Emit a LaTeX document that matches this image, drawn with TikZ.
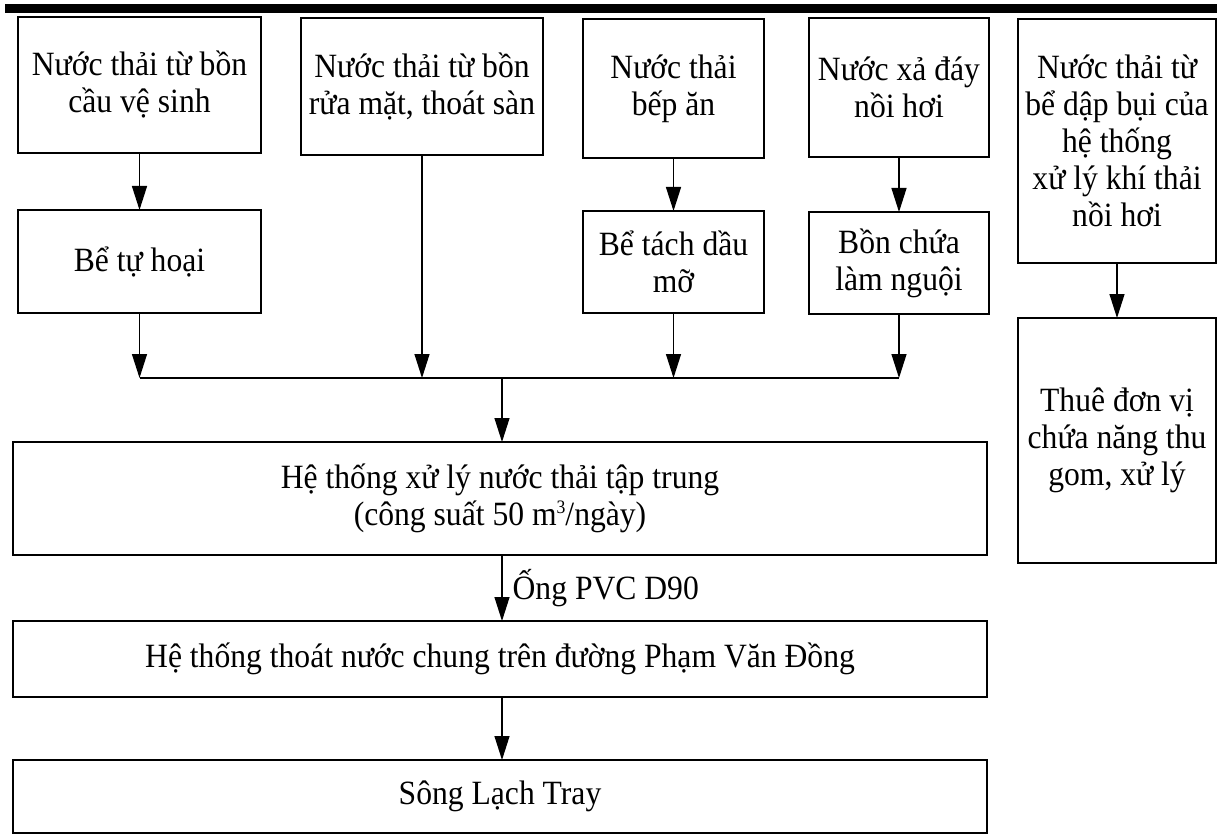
\documentclass[tikz,border=0pt]{standalone}
\usepackage{fontspec}
\setmainfont{Liberation Serif}[FakeStretch=0.93]
\usetikzlibrary{arrows.meta}
\begin{document}
\begin{tikzpicture}[x=1pt,y=-1pt,
  box/.style={draw, line width=1.5pt, align=center, inner sep=2pt, outer sep=0pt,
    font=\fontsize{34}{37}\selectfont},
  arr/.style={line width=1.3pt, -{Triangle[length=24pt,width=15pt]}},
  wire/.style={line width=1.3pt},
  lbl/.style={font=\fontsize{34}{37}\selectfont, inner sep=0pt, anchor=west}]
\useasboundingbox (0,0) rectangle (1217,834);
% top rule
\fill (5,4) rectangle (1217,13);
% top row
\node[box, minimum width=243pt, minimum height=136pt] (n1) at (139.5,85) {Nước thải từ bồn\\cầu vệ sinh};
\node[box, minimum width=242pt, minimum height=137pt] (n2) at (422,86.5) {Nước thải từ bồn\\rửa mặt, thoát sàn};
\node[box, minimum width=181pt, minimum height=139pt] (n3) at (673.5,88.5) {Nước thải\\bếp ăn};
\node[box, minimum width=180pt, minimum height=139pt] (n4) at (899,87.5) {Nước xả đáy\\nồi hơi};
\node[box, minimum width=198pt, minimum height=244pt] (n5) at (1117,141) {Nước thải từ\\bể dập bụi của\\hệ thống\\xử lý khí thải\\nồi hơi};
% middle row
\node[box, minimum width=243pt, minimum height=103pt] (m1) at (139.5,261.5) {Bể tự hoại};
\node[box, minimum width=181pt, minimum height=102pt] (m3) at (673.5,262) {Bể tách dầu\\mỡ};
\node[box, minimum width=180pt, minimum height=102pt] (m4) at (899,263) {Bồn chứa\\làm nguội};
\node[box, minimum width=198pt, minimum height=245pt] (t5) at (1117,440.5) {Thuê đơn vị\\chứa năng thu\\gom, xử lý};
% lower column
\node[box, minimum width=974pt, minimum height=113pt] (c1) at (500,498.5) {Hệ thống xử lý nước thải tập trung\\(công suất 50 m\raisebox{12pt}{\fontsize{19}{19}\selectfont 3}/ngày)};
\node[box, minimum width=974pt, minimum height=76pt] (c2) at (500,659) {Hệ thống thoát nước chung trên đường Phạm Văn Đồng};
\node[box, minimum width=974pt, minimum height=73pt] (c3) at (500,796.5) {Sông Lạch Tray};
% bus
\coordinate (busL) at (139.5,378);
\coordinate (busR) at (899,378);
\coordinate (j) at (502,378);
\draw[wire] (busL) -- (busR);
% connectors
\draw[arr] (n1.south) -- (m1.north);
\draw[arr] (m1.south) -- (busL);
\draw[arr] (n2.south) -- (n2.south |- busL);
\draw[arr] (n3.south) -- (m3.north);
\draw[arr] (m3.south) -- (m3.south |- busL);
\draw[arr] (n4.south) -- (m4.north);
\draw[arr] (m4.south) -- (busR);
\draw[arr] (n5.south) -- (t5.north);
\draw[arr] (j) -- (j |- c1.north);
\coordinate (k1) at (j |- c1.south);
\draw[arr] (k1) -- (j |- c2.north) node[lbl, pos=0.5, xshift=10pt] (pvc) {Ống PVC D90};
\coordinate (k2) at (j |- c2.south);
\draw[arr] (k2) -- (j |- c3.north);
\end{tikzpicture}
\end{document}
